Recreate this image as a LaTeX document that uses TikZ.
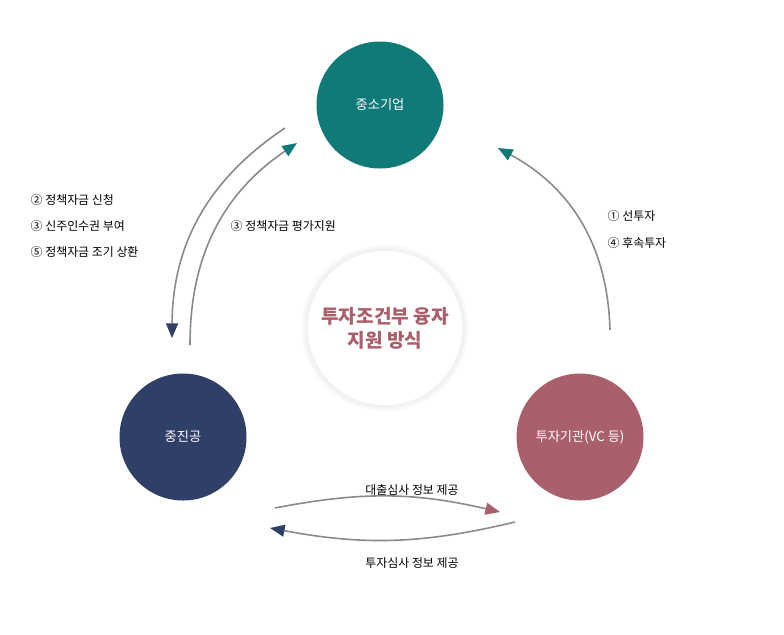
\documentclass[tikz,border=0pt]{standalone}
\usepackage{fontspec}
\setmainfont{Noto Sans CJK KR}
\usetikzlibrary{arrows.meta,positioning}
\definecolor{smecolor}{HTML}{0F7A78}
\definecolor{kosmecolor}{HTML}{2F3F68}
\definecolor{vccolor}{HTML}{A9606C}
\definecolor{linecolor}{HTML}{8A8A8A}

\begin{document}
\begin{tikzpicture}[x=0.0265cm, y=-0.0265cm,
    party/.style={circle, minimum size=127*0.0265cm, text=white, font=\normalsize},
    flow/.style={draw=linecolor, line width=1.2pt},
    lbl/.style={font=\small, text=black, anchor=west}
]
    \useasboundingbox (0,0) rectangle (784,634);

    % Three parties and the centre
    \node[party, fill=smecolor] (sme) at (380,105) {중소기업};
    \node[party, fill=kosmecolor] (kosme) at (183,437) {중진공};
    \node[party, fill=vccolor] (vc) at (580,437) {투자기관(VC 등)};
    \node[circle, fill=black!3, minimum size=166*0.0265cm] (halo) at (385,328) {};
    \node[circle, fill=black!5, minimum size=160*0.0265cm] (halo2) at (385,328) {};
    \node[circle, fill=white, minimum size=154*0.0265cm,
          text=vccolor, font=\Large\bfseries, align=center] (core) at (385,328) {투자조건부 융자\\지원 방식};

    % Connector ends
    \coordinate (a1) at (285,128); \coordinate (a2) at (172,338);
    \coordinate (b1) at (190,345); \coordinate (b2) at (297,143);
    \coordinate (c1) at (610,330); \coordinate (c2) at (498,148);
    \coordinate (d1) at (275,508); \coordinate (d2) at (500,512);
    \coordinate (e1) at (515,522); \coordinate (e2) at (270,528);

    % Arrows
    \draw[flow, -{Triangle[length=11pt, width=9pt, color=kosmecolor]}] (a1) to[bend right=28] (a2);
    \draw[flow, -{Triangle[length=11pt, width=9pt, color=smecolor]}] (b1) to[bend left=28] (b2);
    \draw[flow, -{Triangle[length=11pt, width=9pt, color=smecolor]}] (c1) to[bend right=30] (c2);
    \draw[flow, -{Triangle[length=11pt, width=9pt, color=vccolor]}] (d1) to[bend left=12] (d2);
    \draw[flow, -{Triangle[length=11pt, width=9pt, color=kosmecolor]}] (e1) to[bend left=12] (e2);

    % Labels
    \node[lbl] (l1) at (26,200) {② 정책자금 신청};
    \node[lbl] (l2) at (26,226) {③ 신주인수권 부여};
    \node[lbl] (l3) at (26,252) {⑤ 정책자금 조기 상환};
    \node[lbl] (l4) at (226,226) {③ 정책자금 평가지원};
    \node[lbl] (l5) at (603,216) {① 선투자};
    \node[lbl] (l6) at (603,243) {④ 후속투자};
    \node[lbl, anchor=center] (l7) at (412,490) {대출심사 정보 제공};
    \node[lbl, anchor=center] (l8) at (412,563) {투자심사 정보 제공};
\end{tikzpicture}
\end{document}
